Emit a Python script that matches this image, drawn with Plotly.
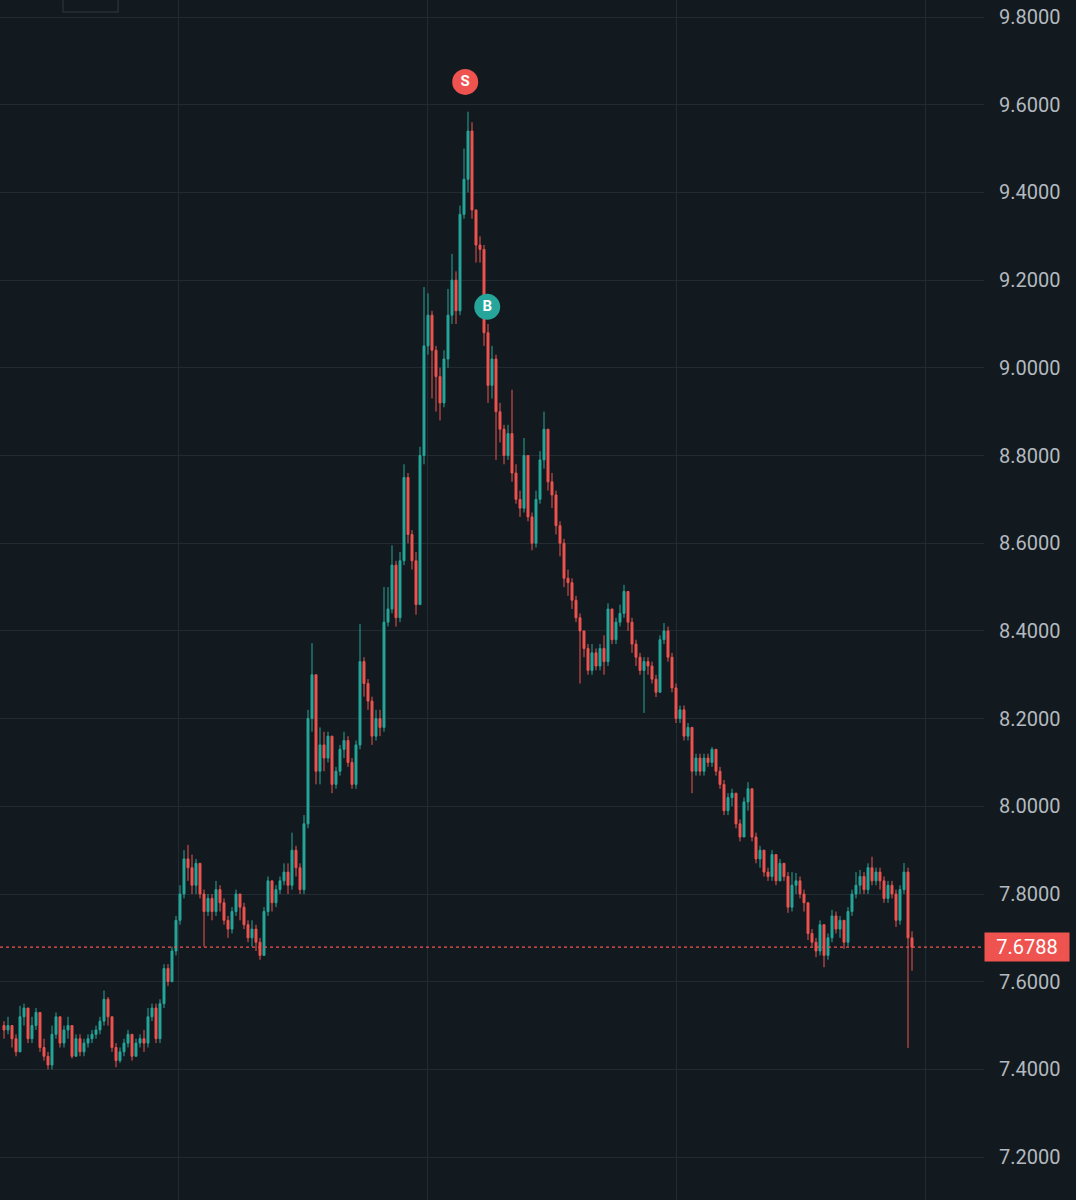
import plotly.graph_objects as go

# ---- data ----
first_open = 7.50
close = [
    7.49, 7.50, 7.47, 7.44, 7.52, 7.54, 7.47, 7.50, 7.53, 7.45,
    7.43, 7.41, 7.48, 7.52, 7.46, 7.49, 7.50, 7.43, 7.47, 7.44,
    7.46, 7.47, 7.48, 7.49, 7.51, 7.56, 7.52, 7.45, 7.42, 7.44,
    7.46, 7.48, 7.43, 7.46, 7.47, 7.46, 7.52, 7.54, 7.47, 7.55,
    7.63, 7.60, 7.67, 7.74, 7.80, 7.88, 7.86, 7.82, 7.87, 7.80,
    7.76, 7.79, 7.76, 7.81, 7.78, 7.74, 7.72, 7.76, 7.80, 7.77,
    7.73, 7.70, 7.72, 7.69, 7.66, 7.76, 7.83, 7.78, 7.81, 7.83,
    7.85, 7.82, 7.90, 7.86, 7.81, 7.96, 8.20, 8.30, 8.08, 8.14,
    8.11, 8.16, 8.05, 8.08, 8.13, 8.15, 8.10, 8.05, 8.14, 8.33,
    8.28, 8.24, 8.16, 8.20, 8.18, 8.42, 8.45, 8.55, 8.43, 8.56,
    8.75, 8.62, 8.56, 8.46, 8.80, 9.05, 9.12, 9.04, 8.98, 8.92,
    9.02, 9.12, 9.20, 9.13, 9.35, 9.43, 9.54, 9.36, 9.28, 9.27,
    9.08, 8.96, 9.02, 8.90, 8.86, 8.80, 8.85, 8.76, 8.70, 8.68,
    8.80, 8.66, 8.60, 8.70, 8.79, 8.86, 8.74, 8.71, 8.64, 8.60,
    8.52, 8.51, 8.47, 8.43, 8.40, 8.36, 8.31, 8.35, 8.32, 8.36,
    8.33, 8.45, 8.38, 8.42, 8.44, 8.49, 8.42, 8.37, 8.34, 8.31,
    8.33, 8.32, 8.29, 8.26, 8.38, 8.40, 8.34, 8.27, 8.20, 8.22,
    8.16, 8.18, 8.08, 8.11, 8.08, 8.11, 8.10, 8.13, 8.08, 8.05,
    7.99, 8.02, 8.03, 7.96, 7.93, 8.01, 8.04, 7.93, 7.88, 7.90,
    7.85, 7.84, 7.89, 7.83, 7.87, 7.84, 7.77, 7.82, 7.83, 7.80,
    7.78, 7.71, 7.69, 7.67, 7.73, 7.66, 7.70, 7.75, 7.72, 7.74,
    7.69, 7.76, 7.80, 7.82, 7.84, 7.81, 7.86, 7.83, 7.85, 7.83,
    7.79, 7.82, 7.80, 7.74, 7.81, 7.85, 7.70, 7.6788,
]
high = [
    7.51, 7.52, 7.50, 7.48, 7.545, 7.55, 7.54, 7.52, 7.54, 7.53,
    7.47, 7.44, 7.50, 7.53, 7.52, 7.50, 7.52, 7.50, 7.48, 7.48,
    7.47, 7.48, 7.49, 7.50, 7.52, 7.58, 7.565, 7.52, 7.46, 7.45,
    7.47, 7.49, 7.48, 7.47, 7.48, 7.49, 7.54, 7.55, 7.55, 7.56,
    7.64, 7.64, 7.68, 7.75, 7.82, 7.90, 7.912, 7.89, 7.88, 7.87,
    7.81, 7.80, 7.80, 7.83, 7.82, 7.79, 7.75, 7.77, 7.81, 7.80,
    7.78, 7.74, 7.74, 7.73, 7.70, 7.77, 7.84, 7.83, 7.82, 7.84,
    7.87, 7.87, 7.94, 7.91, 7.87, 7.98, 8.22, 8.372, 8.30, 8.18,
    8.17, 8.17, 8.16, 8.09, 8.14, 8.17, 8.16, 8.11, 8.15, 8.416,
    8.34, 8.29, 8.25, 8.22, 8.22, 8.50, 8.50, 8.595, 8.56, 8.58,
    8.78, 8.76, 8.63, 8.58, 8.82, 9.184, 9.17, 9.13, 9.05, 9.00,
    9.04, 9.18, 9.26, 9.22, 9.37, 9.50, 9.584, 9.56, 9.36, 9.30,
    9.28, 9.10, 9.05, 9.03, 8.92, 8.87, 8.87, 8.95, 8.78, 8.72,
    8.84, 8.80, 8.67, 8.72, 8.81, 8.90, 8.86, 8.76, 8.72, 8.65,
    8.61, 8.54, 8.52, 8.48, 8.44, 8.40, 8.37, 8.37, 8.36, 8.37,
    8.39, 8.463, 8.45, 8.43, 8.46, 8.505, 8.49, 8.43, 8.38, 8.35,
    8.34, 8.34, 8.33, 8.30, 8.39, 8.418, 8.41, 8.35, 8.28, 8.23,
    8.23, 8.19, 8.18, 8.12, 8.12, 8.12, 8.12, 8.135, 8.13, 8.09,
    8.06, 8.03, 8.04, 8.03, 7.97, 8.02, 8.055, 8.04, 7.94, 7.91,
    7.90, 7.86, 7.90, 7.89, 7.88, 7.87, 7.85, 7.85, 7.848, 7.84,
    7.81, 7.78, 7.72, 7.70, 7.74, 7.73, 7.71, 7.764, 7.76, 7.75,
    7.74, 7.77, 7.81, 7.85, 7.855, 7.85, 7.87, 7.885, 7.86, 7.86,
    7.84, 7.83, 7.83, 7.81, 7.82, 7.871, 7.86, 7.715,
]
low = [
    7.47, 7.48, 7.45, 7.43, 7.44, 7.50, 7.46, 7.46, 7.49, 7.44,
    7.42, 7.40, 7.40, 7.47, 7.45, 7.45, 7.47, 7.425, 7.43, 7.43,
    7.43, 7.45, 7.46, 7.47, 7.48, 7.50, 7.50, 7.44, 7.405, 7.415,
    7.43, 7.45, 7.42, 7.43, 7.45, 7.44, 7.45, 7.51, 7.46, 7.46,
    7.54, 7.59, 7.60, 7.66, 7.73, 7.79, 7.83, 7.80, 7.80, 7.79,
    7.68, 7.75, 7.74, 7.75, 7.76, 7.73, 7.70, 7.71, 7.75, 7.74,
    7.72, 7.69, 7.68, 7.67, 7.65, 7.66, 7.75, 7.76, 7.77, 7.80,
    7.82, 7.80, 7.81, 7.84, 7.80, 7.80, 7.95, 8.17, 8.05, 8.05,
    8.08, 8.10, 8.03, 8.04, 8.07, 8.11, 8.09, 8.04, 8.04, 8.13,
    8.25, 8.22, 8.14, 8.15, 8.16, 8.17, 8.41, 8.44, 8.41, 8.42,
    8.55, 8.60, 8.54, 8.437, 8.46, 8.78, 9.03, 8.93, 8.90, 8.88,
    8.91, 9.00, 9.10, 9.10, 9.12, 9.34, 9.40, 9.34, 9.24, 9.24,
    9.05, 8.92, 8.93, 8.79, 8.83, 8.78, 8.79, 8.74, 8.69, 8.66,
    8.67, 8.65, 8.584, 8.59, 8.69, 8.77, 8.72, 8.68, 8.62, 8.57,
    8.50, 8.48, 8.45, 8.42, 8.28, 8.34, 8.30, 8.30, 8.31, 8.31,
    8.30, 8.32, 8.37, 8.37, 8.41, 8.43, 8.40, 8.35, 8.32, 8.30,
    8.213, 8.30, 8.28, 8.249, 8.26, 8.37, 8.33, 8.26, 8.19, 8.19,
    8.15, 8.15, 8.03, 8.07, 8.07, 8.07, 8.09, 8.09, 8.07, 8.04,
    7.98, 7.98, 8.00, 7.95, 7.92, 7.93, 7.99, 7.92, 7.87, 7.86,
    7.84, 7.83, 7.83, 7.82, 7.83, 7.83, 7.757, 7.76, 7.80, 7.79,
    7.76, 7.695, 7.68, 7.656, 7.66, 7.633, 7.65, 7.69, 7.71, 7.70,
    7.675, 7.68, 7.75, 7.79, 7.80, 7.80, 7.80, 7.82, 7.82, 7.81,
    7.78, 7.78, 7.79, 7.725, 7.73, 7.80, 7.449, 7.625,
]
signal_text = ["S", "B"]
signal_bar = [115.3, 120.8]
signal_price = [9.652, 9.139]
last_price = 7.6788
price_ticks = [7.2, 7.4, 7.6, 7.8, 8.0, 8.2, 8.4, 8.6, 8.8, 9.0, 9.2, 9.4, 9.6, 9.8]

opens = [first_open] + close[:-1]
idx = list(range(len(close)))

BG = "#121a1f"
GRID = "#222b31"
UP = "#26a69a"
DOWN = "#ef5350"

fig = go.Figure()
fig.add_trace(go.Candlestick(
    x=idx, open=opens, high=high, low=low, close=close,
    increasing=dict(line=dict(color=UP, width=1), fillcolor=UP),
    decreasing=dict(line=dict(color=DOWN, width=1), fillcolor=DOWN),
    whiskerwidth=0, showlegend=False, hoverinfo="skip",
))
fig.add_trace(go.Scatter(
    x=signal_bar, y=signal_price, mode="markers+text",
    text=["<b>%s</b>" % t for t in signal_text], textposition="middle center",
    textfont=dict(color="white", size=15, family="Roboto"),
    marker=dict(size=26, color=[DOWN, UP], line=dict(width=0)),
    showlegend=False, hoverinfo="skip", cliponaxis=False,
))

fig.add_shape(type="line", xref="paper", x0=0, x1=1, yref="y",
              y0=last_price, y1=last_price,
              line=dict(color=DOWN, width=1.3, dash="dot"))
fig.add_shape(type="rect", xref="paper", yref="paper",
              x0=0.064, x1=0.120, y0=0.99, y1=1.01,
              line=dict(color="#273036", width=1.5), fillcolor=BG, layer="below")

fig.add_annotation(x=1, xref="paper", y=last_price, yref="y",
                   xanchor="left", yanchor="middle", showarrow=False,
                   text="7.6788", bgcolor=DOWN, width=78, height=22,
                   borderpad=3, align="center",
                   font=dict(color="white", size=20, family="Roboto"))

fig.update_layout(
    width=1076, height=1200,
    margin=dict(l=0, r=92, t=0, b=0),
    paper_bgcolor=BG, plot_bgcolor=BG,
    xaxis=dict(range=[-1, 245], rangeslider=dict(visible=False),
               tickvals=[43.5, 105.75, 168, 230.25], showticklabels=False,
               showgrid=True, gridcolor=GRID, gridwidth=1, zeroline=False,
               showline=False, ticks=""),
    yaxis=dict(side="right", range=[7.1022, 9.8388], tickvals=price_ticks,
               tickformat=".4f", showgrid=True, gridcolor=GRID, gridwidth=1,
               zeroline=False, showline=False, ticks="", ticklabelstandoff=14,
               tickfont=dict(color="#b4b9bf", size=20, family="Roboto")),
    font=dict(family="Roboto"),
)

fig.write_html("out.html", config={"displayModeBar": False},
               post_script="document.body.style.margin='0px';document.body.style.background='%s';" % BG)
